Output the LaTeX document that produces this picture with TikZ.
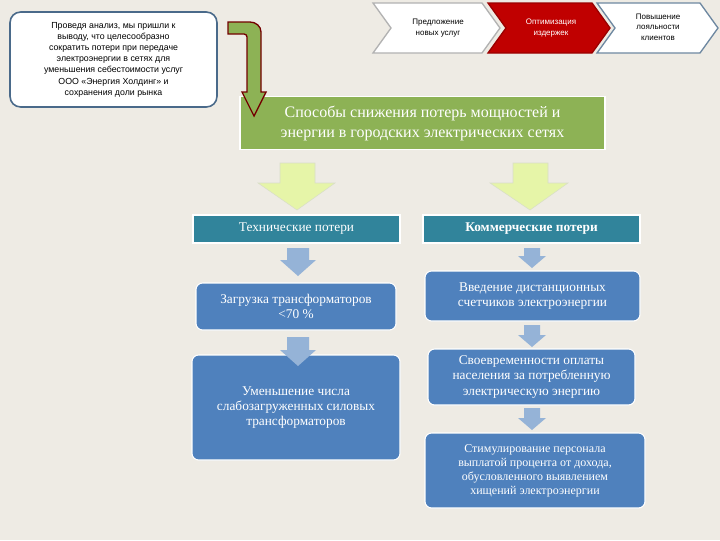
\documentclass[tikz,border=0pt]{standalone}
\usepackage{fontspec}
\setmainfont{Liberation Serif}
\newfontfamily\sansf{Liberation Sans}
\usetikzlibrary{shapes.arrows}
\definecolor{bg}{HTML}{EEEBE4}
\definecolor{teal1}{HTML}{31849B}
\definecolor{blue1}{HTML}{4F81BD}
\definecolor{ltblue}{HTML}{95B3D7}
\definecolor{grn}{HTML}{8DB255}
\definecolor{ylw}{HTML}{E6F5A8}
\definecolor{red1}{HTML}{C00000}
\definecolor{bord}{HTML}{4A6A8A}
\tikzset{
 x=0.75pt,y=-0.75pt,
 tbox/.style={fill=teal1,draw=white,line width=0.8pt,text=white,font=\fontsize{10}{12}\selectfont,inner sep=0},
 bbox/.style={fill=blue1,draw=white,line width=0.8pt,rounded corners=5pt,text=white,align=center,font=\fontsize{10}{11.5}\selectfont,inner sep=0},
 yarr/.style={fill=ylw,draw=ylw!70!black!40},
 barr/.style={fill=ltblue},
 chev/.style={line width=1pt,align=center,font=\sansf\fontsize{6}{8}\selectfont},
}
\begin{document}
\begin{tikzpicture}
\fill[bg] (0,0) rectangle (720,540);
\useasboundingbox (0,0) rectangle (720,540);
% left note
\node[draw=bord,line width=1.2pt,fill=white,rounded corners=8pt,minimum width=207*0.75pt,minimum height=95*0.75pt,align=center,font=\sansf\fontsize{6.6}{8.4}\selectfont,inner sep=0] (note) at (113.5,59.5) {Проведя анализ, мы пришли к\\выводу, что целесообразно\\сократить потери при передаче\\электроэнергии в сетях для\\уменьшения себестоимости услуг\\ООО «Энергия Холдинг» и\\сохранения доли рынка};
% chevrons
\draw[chev,fill=white,draw=gray!60] (373,3)--(482,3)--(500,28)--(482,53)--(373,53)--(391,28)--cycle;
\node[chev] (c1) at (438,28) {Предложение\\новых услуг};
\draw[chev,fill=red1,draw=red1!80!black] (488,3)--(592,3)--(610,28)--(592,53)--(488,53)--(506,28)--cycle;
\node[chev,text=white] (c2) at (551,28) {Оптимизация\\издержек};
\draw[chev,fill=white,draw=bord!80] (597,3)--(700,3)--(718,28)--(700,53)--(597,53)--(615,28)--cycle;
\node[chev] (c3) at (658,27) {Повышение\\лояльности\\клиентов};
% title
\node[fill=grn,draw=white,line width=0.8pt,minimum width=365*0.75pt,minimum height=53*0.75pt,text=white,align=center,font=\fontsize{12}{15}\selectfont,inner sep=0] (title) at (422.5,123) {Способы снижения потерь мощностей и\\энергии в городских электрических сетях};
% bent arrow
\draw[fill=grn,draw=red1!60!black,line width=1pt] (228,22)--(250,22) to[out=0,in=90] (261,32)--(261,92)--(266,92)--(254,116)--(242,92)--(247,92)--(247,37) to[out=90,in=0] (244,34)--(228,34)--cycle;
\coordinate (ba) at (254,116);
% yellow arrows
\draw[yarr] (280,163)--(315,163)--(315,183)--(335,183)--(297,210)--(258,183)--(280,183)--cycle;
\draw[yarr] (513,163)--(548,163)--(548,183)--(568,183)--(530,210)--(490,183)--(513,183)--cycle;
% teal boxes
\node[tbox,minimum width=207*0.75pt,minimum height=28*0.75pt] (tech) at (296.5,229) {Технические потери};
\node[tbox,minimum width=217*0.75pt,minimum height=28*0.75pt,font=\bfseries\fontsize{10}{12}\selectfont] (comm) at (531.5,229) {Коммерческие потери};
% blue boxes
\node[bbox,minimum width=200*0.75pt,minimum height=47*0.75pt] (b1) at (296,306.5) {Загрузка трансформаторов\\<70 \%};
\node[bbox,minimum width=208*0.75pt,minimum height=105*0.75pt] (b2) at (296,407.5) {Уменьшение числа\\слабозагруженных силовых\\трансформаторов};
\node[bbox,minimum width=215*0.75pt,minimum height=50*0.75pt] (r1) at (532.5,296) {Введение  дистанционных\\счетчиков электроэнергии};
\node[bbox,minimum width=207*0.75pt,minimum height=56*0.75pt] (r2) at (531.5,377) {Своевременности оплаты\\населения за потребленную\\электрическую энергию};
\node[bbox,minimum width=220*0.75pt,minimum height=75*0.75pt,font=\fontsize{9}{10.5}\selectfont] (r3) at (535,470.5) {Стимулирование персонала\\выплатой процента от дохода,\\обусловленного выявлением\\хищений электроэнергии};
% blue arrows
\fill[barr] (287,248)--(309,248)--(309,260)--(316,260)--(298,276)--(280,260)--(287,260)--cycle;
\fill[barr] (287,337)--(309,337)--(309,350)--(316,350)--(298,366)--(280,350)--(287,350)--cycle;
\fill[barr] (524,248)--(540,248)--(540,256)--(546,256)--(532,268)--(518,256)--(524,256)--cycle;
\fill[barr] (524,325)--(540,325)--(540,335)--(546,335)--(532,347)--(518,335)--(524,335)--cycle;
\fill[barr] (524,408)--(540,408)--(540,418)--(546,418)--(532,430)--(518,418)--(524,418)--cycle;
\end{tikzpicture}
\end{document}
